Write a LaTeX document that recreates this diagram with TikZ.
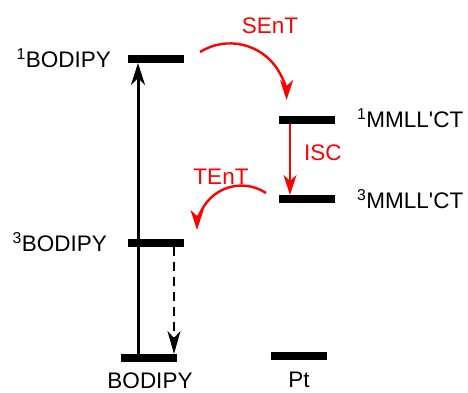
\documentclass[tikz,border=0pt]{standalone}
\usepackage{fontspec}
\setmainfont{Liberation Sans}
\usetikzlibrary{arrows.meta}
\definecolor{enred}{RGB}{255,0,0}
\tikzset{
  level/.style={fill=black,minimum width=56pt,minimum height=8pt,inner sep=0pt,outer sep=0pt},
  lbl/.style={font=\fontsize{22.5}{24}\selectfont,inner sep=0pt},
  rlbl/.style={lbl,text=enred},
  blackarrow/.style={line width=3pt,-{Stealth[length=22pt,width=14pt,inset=7pt]}},
  dasharrow/.style={line width=2.6pt,dash pattern=on 9pt off 6pt,-{Stealth[length=23pt,width=13pt,inset=7pt]}},
  redarrow/.style={draw=enred,line width=2.4pt,-{Stealth[length=20pt,width=13pt,inset=6pt]},color=enred},
}
\begin{document}
\begin{tikzpicture}[x=1pt,y=1pt]
\useasboundingbox (0,0) rectangle (468,-392);
% levels
\node[level] (s1) at (156,-59) {};
\node[level] (t1) at (156,-242.5) {};
\node[level] (b0) at (149,-358) {};
\node[level] (m1) at (306.5,-120) {};
\node[level] (m3) at (306.5,-199) {};
\node[level] (pt) at (299,-356) {};
% helper coordinates
\coordinate (xa) at (138,0);
\coordinate (xd) at (174,0);
\coordinate (xi) at (290,0);
\coordinate (sentS) at (200,-52);
\coordinate (tentS) at (266,-193);
% labels
\node[lbl,anchor=base east] (l1) at (111,-67) {\textsuperscript{1}BODIPY};
\node[lbl,anchor=base east] (l3) at (107,-251) {\textsuperscript{3}BODIPY};
\node[lbl,anchor=base] (l0) at (150,-388) {BODIPY};
\node[lbl,anchor=base] (lpt) at (299,-387) {Pt};
\node[lbl,anchor=base west] (lm1) at (357,-127) {\textsuperscript{1}MMLL\textquotesingle CT};
\node[lbl,anchor=base west] (lm3) at (357,-208) {\textsuperscript{3}MMLL\textquotesingle CT};
\node[rlbl,anchor=base] (lsent) at (270,-33) {SEnT};
\node[rlbl,anchor=base west] (lisc) at (304,-160) {ISC};
\node[rlbl,anchor=base] (ltent) at (221,-184) {TEnT};
% arrows
\draw[blackarrow] (b0.north -| xa) -- (s1.south -| xa);
\draw[dasharrow] (t1.south -| xd) -- (b0.north -| xd);
\draw[redarrow] (m1.south -| xi) -- (m3.north -| xi);
\draw[redarrow] (sentS) arc[start angle=122,end angle=0,radius=56.6];
\draw[redarrow] (tentS) arc[start angle=56.4,end angle=180,radius=44.4];
\end{tikzpicture}
\end{document}
